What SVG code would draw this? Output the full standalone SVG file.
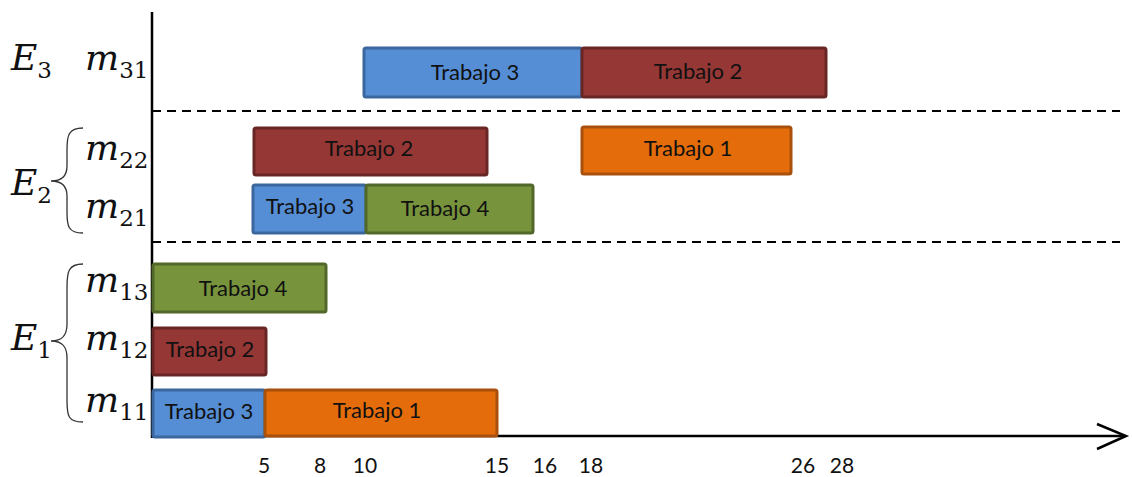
<svg xmlns="http://www.w3.org/2000/svg" width="1132" height="477" viewBox="0 0 1132 477">
  <style>
    .bar { stroke-width: 3; }
    .b3 { fill: #558ed5; stroke: #3b679e; }
    .b2 { fill: #953735; stroke: #682624; }
    .b1 { fill: #e46c0a; stroke: #a8500c; }
    .b4 { fill: #77933c; stroke: #52682b; }
    .lbl { font-family: Lato, "Open Sans", "Liberation Sans", sans-serif; font-size: 22px; fill: #111; text-anchor: middle; }
    .tick { font-family: Lato, "Open Sans", "Liberation Sans", sans-serif; font-size: 21px; fill: #111; text-anchor: middle; }
    .math { font-family: "DejaVu Serif", "Liberation Serif", serif; font-style: italic; font-size: 36px; fill: #111; }
    .sub { font-style: normal; font-size: 23px; }
    .axis { stroke: #000; stroke-width: 2.5; fill: none; }
    .dash { stroke: #000; stroke-width: 2; stroke-dasharray: 9 6; fill: none; }
    .brace { stroke: #333; stroke-width: 1.3; fill: none; }
  </style>

  <g id="connectors">
    <line class="axis" x1="152" y1="12" x2="152" y2="438"/>
    <line class="axis" x1="151" y1="436" x2="1125" y2="436"/>
    <polyline class="axis" points="1097,424 1126,436 1097,449"/>
    <line class="dash" x1="152" y1="111" x2="1120" y2="111"/>
    <line class="dash" x1="152" y1="242" x2="1120" y2="242"/>
  </g>

  <g id="labels">
    <text class="math" x="11" y="70">E<tspan class="sub" dy="8">3</tspan></text>
    <text class="math" x="85" y="70">m<tspan class="sub" dy="8">31</tspan></text>
    <text class="math" x="11" y="195">E<tspan class="sub" dy="8">2</tspan></text>
    <text class="math" x="85" y="160">m<tspan class="sub" dy="8">22</tspan></text>
    <text class="math" x="85" y="218">m<tspan class="sub" dy="8">21</tspan></text>
    <text class="math" x="11" y="350">E<tspan class="sub" dy="8">1</tspan></text>
    <text class="math" x="85" y="292">m<tspan class="sub" dy="8">13</tspan></text>
    <text class="math" x="85" y="350">m<tspan class="sub" dy="8">12</tspan></text>
    <text class="math" x="85" y="412">m<tspan class="sub" dy="8">11</tspan></text>
    <path class="brace" d="M83,128 C68,128 67,136 67,150 L67,166 C67,176 62,181 51,181 C62,181 67,186 67,196 L67,212 C67,226 68,233 83,233"/>
    <path class="brace" d="M83,264 C68,264 67,272 67,288 L67,324 C67,336 62,341 51,341 C62,341 67,346 67,358 L67,400 C67,416 68,422 83,422"/>
  </g>

  <g id="m31">
    <rect class="bar b3" x="364" y="48" width="218" height="49" rx="2"/>
    <text class="lbl" x="475" y="80">Trabajo 3</text>
    <rect class="bar b2" x="582" y="48" width="244" height="49" rx="2"/>
    <text class="lbl" x="698" y="79">Trabajo 2</text>
  </g>

  <g id="m22">
    <rect class="bar b2" x="254" y="128" width="233" height="47" rx="2"/>
    <text class="lbl" x="369" y="156">Trabajo 2</text>
    <rect class="bar b1" x="582" y="127" width="209" height="47" rx="2"/>
    <text class="lbl" x="688" y="156">Trabajo 1</text>
  </g>

  <g id="m21">
    <rect class="bar b3" x="253" y="185" width="113" height="48" rx="2"/>
    <text class="lbl" x="310" y="214">Trabajo 3</text>
    <rect class="bar b4" x="366" y="185" width="167" height="48" rx="2"/>
    <text class="lbl" x="445" y="216">Trabajo 4</text>
  </g>

  <g id="m13">
    <rect class="bar b4" x="153" y="264" width="173" height="48" rx="2"/>
    <text class="lbl" x="243" y="296">Trabajo 4</text>
  </g>

  <g id="m12">
    <rect class="bar b2" x="153" y="328" width="113" height="47" rx="2"/>
    <text class="lbl" x="210" y="357">Trabajo 2</text>
  </g>

  <g id="m11">
    <rect class="bar b3" x="153" y="390" width="112" height="47" rx="2"/>
    <text class="lbl" x="209" y="419">Trabajo 3</text>
    <rect class="bar b1" x="265" y="390" width="232" height="46" rx="2"/>
    <text class="lbl" x="377" y="418">Trabajo 1</text>
  </g>

  <g id="ticks">
    <text class="tick" x="264" y="473">5</text>
    <text class="tick" x="320" y="473">8</text>
    <text class="tick" x="365" y="473">10</text>
    <text class="tick" x="497" y="473">15</text>
    <text class="tick" x="545" y="473">16</text>
    <text class="tick" x="591" y="473">18</text>
    <text class="tick" x="803" y="473">26</text>
    <text class="tick" x="842" y="473">28</text>
  </g>
</svg>
